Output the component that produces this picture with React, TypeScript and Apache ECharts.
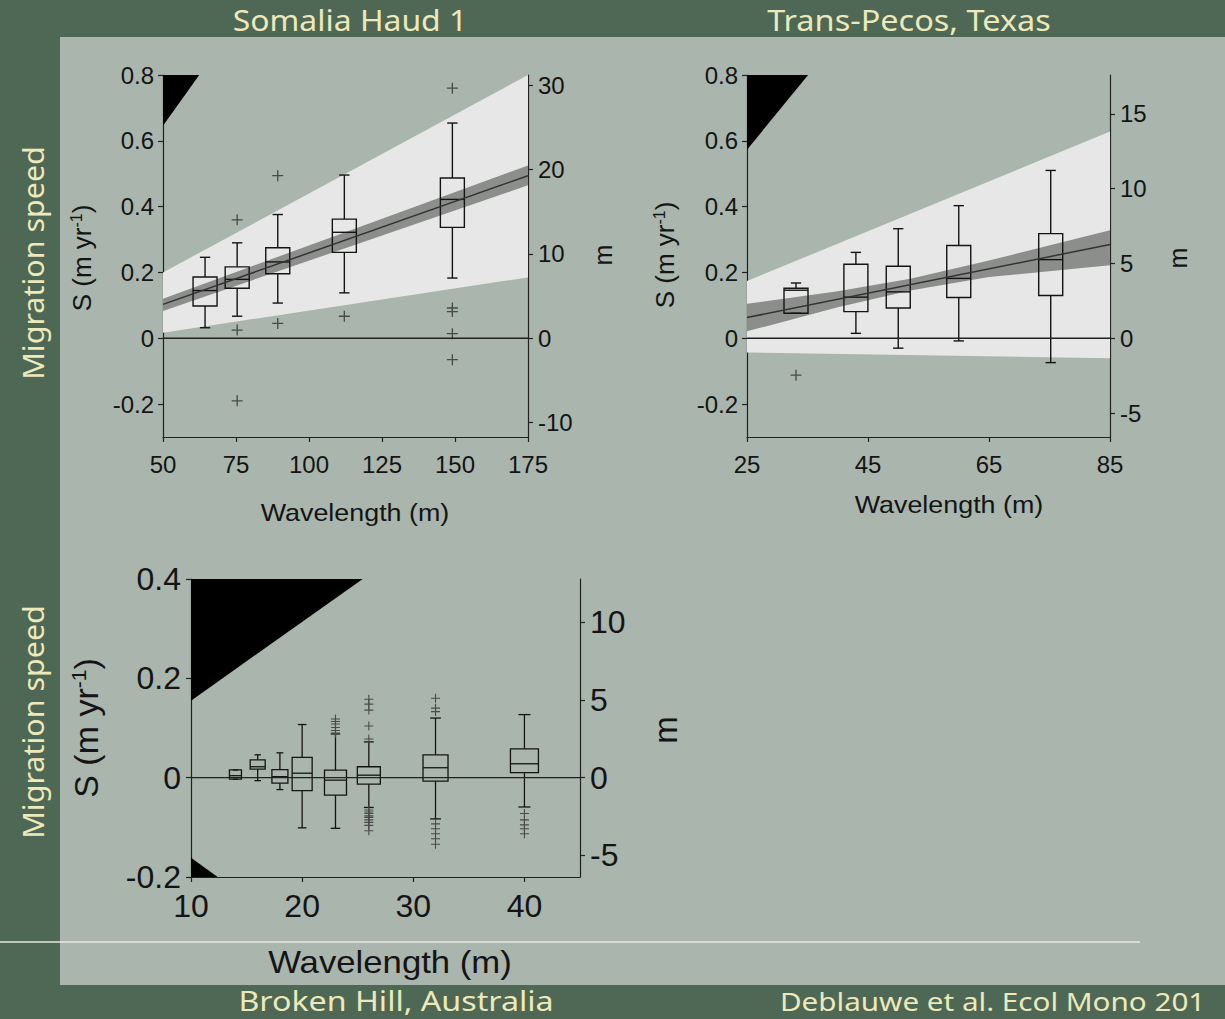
import React, { useEffect, useRef } from "react";
import * as echarts from "echarts";

// ---------------- Somalia Haud 1 ----------------
const SOM_X = [64.4, 75.4, 89.3, 112.1, 149.1];
const SOM_LOW = [0.032, 0.067, 0.107, 0.138, 0.183];
const SOM_Q1 = [0.098, 0.152, 0.196, 0.261, 0.337];
const SOM_MED = [0.145, 0.179, 0.232, 0.322, 0.422];
const SOM_Q3 = [0.186, 0.217, 0.275, 0.362, 0.487];
const SOM_HIGH = [0.246, 0.29, 0.376, 0.496, 0.654];
const SOM_OUT_X = [75.4, 75.4, 75.4, 89.3, 89.3, 112.1, 149.1, 149.1, 149.1, 149.1, 149.1];
const SOM_OUT_Y = [0.36, 0.025, -0.19, 0.494, 0.045, 0.067, 0.76, 0.092, 0.081, 0.014, -0.065];
const SOM_FIT_X = [50, 175];
const SOM_FIT = [0.103, 0.494];
const SOM_CI_LO = [0.083, 0.465];
const SOM_CI_HI = [0.12, 0.525];
const SOM_PI_LO = [0.017, 0.185];
const SOM_PI_HI = [0.2, 0.8];
const SOM_WEDGE_X = [50, 62.4, 50];
const SOM_WEDGE_Y = [0.8, 0.8, 0.646];
const SOM_M_FACTOR = 39;
const SOM_XTICKS = [50, 75, 100, 125, 150, 175];
const SOM_YTICKS = [-0.2, 0, 0.2, 0.4, 0.6, 0.8];
const SOM_RTICKS = [-10, 0, 10, 20, 30];

// ---------------- Trans-Pecos, Texas ----------------
const TX_X = [33.1, 43.0, 50.0, 60.0, 75.2];
const TX_LOW = [0.076, 0.015, -0.03, -0.008, -0.074];
const TX_Q1 = [0.076, 0.081, 0.092, 0.124, 0.13];
const TX_MED = [0.146, 0.125, 0.141, 0.182, 0.239];
const TX_Q3 = [0.152, 0.225, 0.219, 0.282, 0.318];
const TX_HIGH = [0.168, 0.261, 0.333, 0.403, 0.51];
const TX_OUT_X = [33.1];
const TX_OUT_Y = [-0.112];
const TX_FIT_X = [25, 85];
const TX_FIT = [0.063, 0.285];
const TX_CI_X = [25, 40, 52, 65, 85];
const TX_CI_LO = [0.021, 0.094, 0.145, 0.186, 0.222];
const TX_CI_HI = [0.105, 0.143, 0.181, 0.236, 0.328];
const TX_PI_X = [25, 85];
const TX_PI_LO = [-0.043, -0.061];
const TX_PI_HI = [0.174, 0.628];
const TX_WEDGE_X = [25, 35.1, 25];
const TX_WEDGE_Y = [0.8, 0.8, 0.573];
const TX_M_FACTOR = 22;
const TX_XTICKS = [25, 45, 65, 85];
const TX_YTICKS = [-0.2, 0, 0.2, 0.4, 0.6, 0.8];
const TX_RTICKS = [-5, 0, 5, 10, 15];

// ---------------- Broken Hill, Australia ----------------
const BH_X = [14, 16, 18, 20, 23, 26, 32, 40];
const BH_LOW = [-0.003, -0.006, -0.024, -0.101, -0.102, -0.06, -0.083, -0.059];
const BH_Q1 = [-0.003, 0.017, -0.011, -0.026, -0.035, -0.013, -0.007, 0.01];
const BH_MED = [0.004, 0.022, 0.002, 0.009, -0.005, 0.005, 0.02, 0.028];
const BH_Q3 = [0.0155, 0.036, 0.016, 0.041, 0.015, 0.022, 0.046, 0.058];
const BH_HIGH = [0.0155, 0.046, 0.05, 0.107, 0.088, 0.072, 0.12, 0.127];
const BH_OUT_X = [
  23, 23, 23, 23, 23, 23,
  26, 26, 26, 26, 26, 26, 26, 26, 26, 26, 26, 26, 26, 26,
  32, 32, 32, 32, 32, 32, 32, 32,
  40, 40, 40, 40, 40,
];
const BH_OUT_Y = [
  0.118, 0.113, 0.108, 0.101, 0.095, 0.09,
  0.158, 0.148, 0.136, 0.104, 0.078, -0.065, -0.069, -0.072, -0.077, -0.08, -0.085, -0.09, -0.096, -0.107,
  0.16, 0.14, 0.133, -0.093, -0.103, -0.113, -0.123, -0.134,
  -0.072, -0.085, -0.095, -0.103, -0.113,
];
const BH_WEDGE_X = [10, 25.45, 10];
const BH_WEDGE_Y = [0.4, 0.4, 0.155];
const BH_WEDGE2_X = [10, 12.4, 10];
const BH_WEDGE2_Y = [-0.2, -0.2, -0.161];
const BH_M_FACTOR = 32;
const BH_XTICKS = [10, 20, 30, 40];
const BH_YTICKS = [-0.2, 0, 0.2, 0.4];
const BH_RTICKS = [-5, 0, 5, 10];

// ---------------- styles ----------------
const BG_DARK = "#4f6755";
const BG_PANEL = "#a9b5ad";
const CREAM = "#ece9bb";
const PI_COLOR = "#e6e7e6";
const CI_COLOR = "#8c8e8c";
const INK = "#141414";
const FONT_AX = "'Liberation Sans', Arial, sans-serif";
const FONT_TITLE = "'Noto Sans', sans-serif";
const TOP_BOX_PX = [24, 24, 24, 24, 24];
const BH_BOX_PX = [12, 15, 16, 20, 22, 23, 25, 28];

function polygonSeries(xi: number, yi: number, xs: number[], lo: number[], hi: number[], color: string) {
  return {
    type: "custom",
    xAxisIndex: xi,
    yAxisIndex: yi,
    silent: true,
    data: xs.map((x, i) => [x, lo[i], hi[i]]),
    renderItem: (params: any, api: any) => {
      if (params.dataIndex !== 0) return null;
      const pts: number[][] = [];
      xs.forEach((x, i) => pts.push(api.coord([x, hi[i]])));
      for (let i = xs.length - 1; i >= 0; i--) pts.push(api.coord([xs[i], lo[i]]));
      return { type: "polygon", shape: { points: pts }, style: { fill: color } };
    },
  };
}

function wedgeSeries(xi: number, yi: number, xs: number[], ys: number[]) {
  return {
    type: "custom",
    xAxisIndex: xi,
    yAxisIndex: yi,
    silent: true,
    data: xs.map((x, i) => [x, ys[i]]),
    renderItem: (params: any, api: any) => {
      if (params.dataIndex !== 0) return null;
      const pts = xs.map((x, i) => api.coord([x, ys[i]]));
      return { type: "polygon", shape: { points: pts }, style: { fill: "#000" } };
    },
  };
}

function lineSeries(xi: number, yi: number, xs: number[], ys: number[], color: string, width: number) {
  return {
    type: "line",
    xAxisIndex: xi,
    yAxisIndex: yi,
    silent: true,
    symbol: "none",
    data: xs.map((x, i) => [x, ys[i]]),
    lineStyle: { color, width },
  };
}

function boxSeries(
  xi: number, yi: number, xs: number[], low: number[], q1: number[], med: number[], q3: number[], high: number[],
  widths: number[], lw: number
) {
  return {
    type: "custom",
    xAxisIndex: xi,
    yAxisIndex: yi,
    silent: true,
    data: xs.map((x, i) => [x, low[i], q1[i], med[i], q3[i], high[i]]),
    renderItem: (params: any, api: any) => {
      const i = params.dataIndex;
      const x = api.value(0);
      const cx = api.coord([x, 0])[0];
      const yLow = api.coord([x, api.value(1)])[1];
      const yQ1 = api.coord([x, api.value(2)])[1];
      const yMed = api.coord([x, api.value(3)])[1];
      const yQ3 = api.coord([x, api.value(4)])[1];
      const yHigh = api.coord([x, api.value(5)])[1];
      const w = widths[i];
      const cap = w * 0.43;
      const st = { stroke: INK, lineWidth: lw, fill: "none" };
      return {
        type: "group",
        children: [
          { type: "line", shape: { x1: cx, y1: yLow, x2: cx, y2: yQ1 }, style: st },
          { type: "line", shape: { x1: cx, y1: yQ3, x2: cx, y2: yHigh }, style: st },
          { type: "line", shape: { x1: cx - cap / 2, y1: yLow, x2: cx + cap / 2, y2: yLow }, style: st },
          { type: "line", shape: { x1: cx - cap / 2, y1: yHigh, x2: cx + cap / 2, y2: yHigh }, style: st },
          { type: "rect", shape: { x: cx - w / 2, y: yQ3, width: w, height: yQ1 - yQ3 }, style: st },
          { type: "line", shape: { x1: cx - w / 2, y1: yMed, x2: cx + w / 2, y2: yMed }, style: st },
        ],
      };
    },
  };
}

const PLUS = "path://M0,4.4L10,4.4L10,5.6L0,5.6Z M4.4,0L5.6,0L5.6,10L4.4,10Z";

function outlierSeries(xi: number, yi: number, xs: number[], ys: number[], size: number) {
  return {
    type: "scatter",
    xAxisIndex: xi,
    yAxisIndex: yi,
    silent: true,
    symbol: PLUS,
    symbolSize: size,
    data: xs.map((x, i) => [x, ys[i]]),
    itemStyle: { color: "#4a4a4a", opacity: 1 },
  };
}

function xAx(gridIndex: number, min: number, max: number, ticks: number[], fontSize: number, margin: number) {
  return {
    type: "value",
    gridIndex,
    min,
    max,
    position: "bottom",
    axisLine: { show: true, onZero: false, lineStyle: { color: "#222", width: 1.2 } },
    axisTick: { show: true, length: 5, customValues: ticks, lineStyle: { color: "#222", width: 1.2 } },
    axisLabel: { color: INK, fontSize, fontFamily: FONT_AX, margin, customValues: ticks },
    splitLine: { show: false },
  };
}

function yAx(gridIndex: number, pos: string, min: number, max: number, ticks: number[], fontSize: number, margin: number) {
  return {
    type: "value",
    gridIndex,
    min,
    max,
    position: pos,
    axisLine: { show: true, onZero: false, lineStyle: { color: "#222", width: 1.2 } },
    axisTick: { show: true, length: 5, customValues: ticks, lineStyle: { color: "#222", width: 1.2 } },
    axisLabel: { color: INK, fontSize, fontFamily: FONT_AX, margin, customValues: ticks },
    splitLine: { show: false },
  };
}

function rotText(x: number, y: number, text: string, fontSize: number, color: string, family: string, stretch = 1, rich?: any) {
  return {
    type: "text",
    x,
    y,
    rotation: Math.PI / 2,
    scaleX: stretch,
    z: 5,
    style: {
      text,
      fill: color,
      fontSize,
      fontFamily: family,
      align: "center",
      verticalAlign: "middle",
      rich,
    },
  };
}

function sLabel(x: number, y: number, fs: number) {
  return rotText(x, y, "{a|S (m yr}{s|-1}{a|)}", fs, INK, FONT_AX, 1, {
    a: { fontSize: fs, fontFamily: FONT_AX, fill: INK },
    s: { fontSize: Math.round(fs * 0.62), fontFamily: FONT_AX, fill: INK, verticalAlign: "top", padding: [0, 0, Math.round(fs * 0.45), 0] },
  });
}

function plainText(x: number, y: number, text: string, fontSize: number, color: string, family: string, stretch = 1, align = "center") {
  return {
    type: "text",
    x,
    y,
    scaleX: stretch,
    z: 5,
    style: { text, fill: color, fontSize, fontFamily: family, align, verticalAlign: "middle" },
  };
}

export default function App() {
  const ref = useRef<HTMLDivElement>(null);
  useEffect(() => {
    if (!ref.current) return;
    const chart = echarts.init(ref.current, null, { renderer: "svg" });
    const option: any = {
      animation: false,
      backgroundColor: BG_DARK,
      grid: [
        { left: 163, top: 75, width: 365, height: 362 },
        { left: 747, top: 75, width: 363, height: 362 },
        { left: 191, top: 579, width: 389, height: 298 },
      ],
      xAxis: [
        xAx(0, 50, 175, SOM_XTICKS, 24, 15),
        xAx(1, 25, 85, TX_XTICKS, 24, 15),
        xAx(2, 10, 45, BH_XTICKS, 32, 13),
      ],
      yAxis: [
        yAx(0, "left", -0.3, 0.8, SOM_YTICKS, 24, 9),
        yAx(0, "right", -0.3 * SOM_M_FACTOR, 0.8 * SOM_M_FACTOR, SOM_RTICKS, 24, 10),
        yAx(1, "left", -0.3, 0.8, TX_YTICKS, 24, 9),
        yAx(1, "right", -0.3 * TX_M_FACTOR, 0.8 * TX_M_FACTOR, TX_RTICKS, 24, 10),
        yAx(2, "left", -0.2, 0.4, BH_YTICKS, 32, 10),
        yAx(2, "right", -0.2 * BH_M_FACTOR, 0.4 * BH_M_FACTOR, BH_RTICKS, 32, 10),
      ],
      graphic: [
        { type: "rect", z: -10, shape: { x: 60, y: 37, width: 1165, height: 948 }, style: { fill: BG_PANEL } },
        { type: "line", z: -9, shape: { x1: 0, y1: 942, x2: 1140, y2: 942 }, style: { stroke: "#e4e8e0", lineWidth: 1.5 } },
        plainText(350, 20, "Somalia Haud 1", 29, CREAM, FONT_TITLE, 1.1),
        plainText(909, 20, "Trans-Pecos, Texas", 29, CREAM, FONT_TITLE, 1.12),
        plainText(396, 1000, "Broken Hill, Australia", 28, CREAM, FONT_TITLE, 1.15),
        plainText(780, 1001, "Deblauwe et al. Ecol Mono 201", 26, CREAM, FONT_TITLE, 1.14, "left"),
        rotText(33, 263, "Migration speed", 29, CREAM, FONT_TITLE, 1.05),
        rotText(33, 722, "Migration speed", 29, CREAM, FONT_TITLE, 1.05),
        sLabel(82, 258, 26),
        sLabel(665, 255, 26),
        sLabel(86, 728, 34),
        rotText(603, 255, "m", 25, INK, FONT_AX),
        rotText(1178, 258, "m", 25, INK, FONT_AX),
        rotText(665, 730, "m", 33, INK, FONT_AX),
        plainText(355, 513, "Wavelength (m)", 24, INK, FONT_AX, 1.12),
        plainText(949, 505, "Wavelength (m)", 24, INK, FONT_AX, 1.12),
        plainText(390, 962, "Wavelength (m)", 31, INK, FONT_AX, 1.12),
      ],
      series: [
        // Somalia
        polygonSeries(0, 0, SOM_FIT_X, SOM_PI_LO, SOM_PI_HI, PI_COLOR),
        polygonSeries(0, 0, SOM_FIT_X, SOM_CI_LO, SOM_CI_HI, CI_COLOR),
        wedgeSeries(0, 0, SOM_WEDGE_X, SOM_WEDGE_Y),
        lineSeries(0, 0, [50, 175], [0, 0], "#222", 1.3),
        lineSeries(0, 0, SOM_FIT_X, SOM_FIT, "#333", 1.5),
        boxSeries(0, 0, SOM_X, SOM_LOW, SOM_Q1, SOM_MED, SOM_Q3, SOM_HIGH, TOP_BOX_PX, 1.4),
        outlierSeries(0, 0, SOM_OUT_X, SOM_OUT_Y, 11),
        // Texas
        polygonSeries(1, 2, TX_PI_X, TX_PI_LO, TX_PI_HI, PI_COLOR),
        polygonSeries(1, 2, TX_CI_X, TX_CI_LO, TX_CI_HI, CI_COLOR),
        wedgeSeries(1, 2, TX_WEDGE_X, TX_WEDGE_Y),
        lineSeries(1, 2, [25, 85], [0, 0], "#222", 1.3),
        lineSeries(1, 2, TX_FIT_X, TX_FIT, "#333", 1.5),
        boxSeries(1, 2, TX_X, TX_LOW, TX_Q1, TX_MED, TX_Q3, TX_HIGH, TOP_BOX_PX, 1.4),
        outlierSeries(1, 2, TX_OUT_X, TX_OUT_Y, 11),
        // Broken Hill
        wedgeSeries(2, 4, BH_WEDGE_X, BH_WEDGE_Y),
        wedgeSeries(2, 4, BH_WEDGE2_X, BH_WEDGE2_Y),
        lineSeries(2, 4, [10, 45], [0, 0], "#222", 1.3),
        boxSeries(2, 4, BH_X, BH_LOW, BH_Q1, BH_MED, BH_Q3, BH_HIGH, BH_BOX_PX, 1.3),
        outlierSeries(2, 4, BH_OUT_X, BH_OUT_Y, 9),
      ],
    };
    chart.setOption(option);
    return () => chart.dispose();
  }, []);
  return (
    <div
      ref={ref}
      style={{ position: "fixed", left: 0, top: 0, width: 1225, height: 1019 }}
    />
  );
}
